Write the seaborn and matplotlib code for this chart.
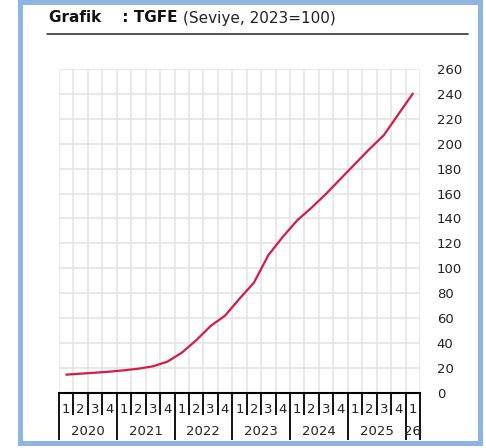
import matplotlib
matplotlib.use('Agg')
import matplotlib.pyplot as plt
import seaborn as sns
import pandas as pd
from matplotlib.patches import Rectangle
from matplotlib.lines import Line2D

years = ['2020', '2021', '2022', '2023', '2024', '2025', '26']
quarters_per_year = [4, 4, 4, 4, 4, 4, 1]
tgfe = [14.5, 15.3, 16.1, 16.9, 18.0, 19.3, 21.2, 24.9, 32.1, 42.1, 53.6, 61.9,
        75.5, 88.4, 110.5, 125.2, 138.5, 148.7, 159.8, 171.8, 183.8, 195.7,
        206.9, 223.6, 240.2]
y_ticks = list(range(0, 261, 20))


def main():
    periods = []
    quarter_labels = []
    for year, n in zip(years, quarters_per_year):
        for q in range(1, n + 1):
            periods.append(f'{year}-{q}')
            quarter_labels.append(str(q))
    df = pd.DataFrame({'period': periods, 'value': tgfe})

    sns.set_theme(style='white')
    plt.rcParams['font.family'] = ['DejaVu Sans']

    fig = plt.figure(figsize=(4.86, 4.48), dpi=100)
    ax = fig.add_axes([0.1214, 0.1234, 0.7428, 0.7226])

    sns.lineplot(data=df, x='period', y='value', color='#d81b45', linewidth=1.6, ax=ax)

    n = len(periods)
    ax.set_xlim(-0.5, n - 0.5)
    ax.set_ylim(0, 260)
    ax.set_xlabel('')
    ax.set_ylabel('')

    # grid: horizontal at every 20, vertical at quarter boundaries
    ax.set_yticks(y_ticks)
    ax.set_xticks([i - 0.5 for i in range(n + 1)], minor=True)
    ax.set_xticks(range(n))
    ax.set_xticklabels([])
    ax.tick_params(axis='x', which='both', length=0)
    ax.grid(axis='y', color='#e3e3e3', linewidth=1.1)
    ax.grid(axis='x', which='minor', color='#e3e3e3', linewidth=1.1)
    ax.set_axisbelow(True)

    ax.yaxis.tick_right()
    ax.tick_params(axis='y', length=0, pad=12, labelsize=9.5, labelcolor='#222222')

    for s in ['top', 'left', 'right']:
        ax.spines[s].set_visible(False)
    ax.spines['bottom'].set_color('black')
    ax.spines['bottom'].set_linewidth(1.5)

    # category axis: quarters then years
    tr = ax.get_xaxis_transform()
    for i, lab in enumerate(quarter_labels):
        ax.text(i, -0.053, lab, transform=tr, ha='center', va='center',
                fontsize=9.5, color='#222222')
    pos = 0
    for year, cnt in zip(years, quarters_per_year):
        ax.text(pos + (cnt - 1) / 2, -0.12, year, transform=tr, ha='center',
                va='center', fontsize=9.5, color='#222222')
        pos += cnt
    year_edges = [-0.5]
    for cnt in quarters_per_year:
        year_edges.append(year_edges[-1] + cnt)
    for i in range(n + 1):
        b = i - 0.5
        low = -0.145 if b in year_edges else -0.068
        ax.plot([b, b], [0, low], transform=tr, color='black', linewidth=1.3,
                clip_on=False, solid_capstyle='butt')

    # title and rule
    fig.text(49 / 486, 1 - 18 / 448, 'Grafik    : TGFE', fontsize=11,
             fontweight='bold', color='#111111', ha='left', va='center')
    fig.text(183 / 486, 1 - 18 / 448, '(Seviye, 2023=100)', fontsize=11,
             color='#222222', ha='left', va='center')
    fig.lines.append(Line2D([47 / 486, 468 / 486], [1 - 34 / 448, 1 - 34 / 448],
                            transform=fig.transFigure, color='#333333', linewidth=1.2))

    # blue frame
    fig.patches.append(Rectangle((19.5 / 486, 1 - 442.5 / 448),
                                 (480 - 19.5) / 486, (442.5 - 2) / 448,
                                 transform=fig.transFigure, fill=False,
                                 edgecolor='#8db4e2', linewidth=3.6))

    fig.savefig('out.png', dpi=100)


if __name__ == '__main__':
    main()
